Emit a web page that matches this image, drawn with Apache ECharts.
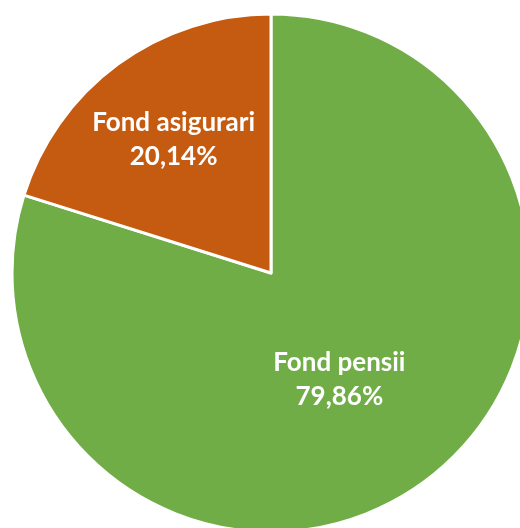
<!DOCTYPE html>
<html>
<head>
<meta charset="utf-8">
<script src="https://cdn.jsdelivr.net/npm/echarts@6/dist/echarts.min.js"></script>
<style>
  html, body { margin: 0; padding: 0; background: #fff; }
  #main { width: 520px; height: 528px; }
</style>
</head>
<body>
<div id="main"></div>
<script>
const categories = ['Fond pensii', 'Fond asigurari']
const values = [79.86, 20.14]
const colors = ['#70AD47', '#C55A11']
const labelOffsets = [[-10, 0], [-19, -27]]

const chart = echarts.init(document.getElementById('main'))
chart.setOption({
  animation: false,
  series: [{
    type: 'pie',
    center: [271, 273],
    radius: 259,
    startAngle: 90,
    clockwise: true,
    silent: true,
    itemStyle: {
      borderColor: '#fff',
      borderWidth: 3
    },
    label: {
      position: 'inside',
      color: '#fff',
      fontFamily: 'Lato',
      fontWeight: 'bold',
      fontSize: 26,
      lineHeight: 34,
      formatter: p => p.name + '\n' + p.value.toFixed(2).replace('.', ',') + '%'
    },
    labelLine: { show: false },
    data: categories.map((name, i) => ({
      name: name,
      value: values[i],
      itemStyle: { color: colors[i] },
      label: { offset: labelOffsets[i] }
    }))
  }]
})
</script>
</body>
</html>
